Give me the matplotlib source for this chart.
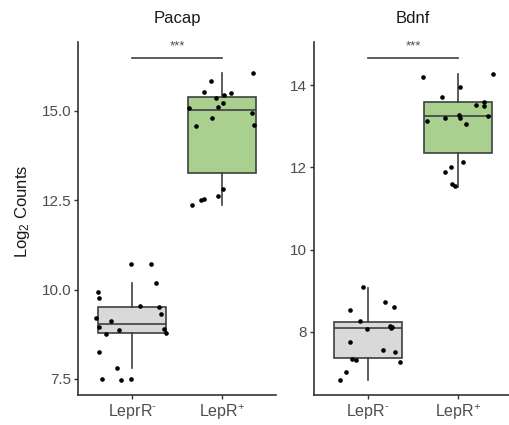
import matplotlib
matplotlib.use("Agg")
import matplotlib.pyplot as plt
import numpy as np

plt.rcParams["font.family"] = ["Liberation Sans", "DejaVu Sans"]
plt.rcParams["mathtext.fontset"] = "custom"
plt.rcParams["mathtext.rm"] = "Liberation Sans"
plt.rcParams["mathtext.it"] = "Liberation Sans:italic"
plt.rcParams["mathtext.default"] = "regular"

groups = ["LeprR$^{\\text{-}}$", "LepR$^{+}$"]
groups_bdnf = ["LepR$^{\\text{-}}$", "LepR$^{+}$"]

# Pacap log2 counts per sample
pacap_neg = [10.73, 10.73, 10.19, 9.94, 9.76, 9.53, 9.51, 9.31, 9.21, 9.11,
             8.95, 8.86, 8.91, 8.76, 8.78, 8.26, 7.80, 7.49, 7.48, 7.49]
pacap_neg_jitter = [-0.01, 0.21, 0.27, -0.38, -0.37, 0.09, 0.30, 0.32, -0.40, -0.23,
                    -0.37, -0.15, 0.36, -0.29, 0.38, -0.37, -0.17, -0.33, -0.12, -0.01]
pacap_pos = [16.06, 15.84, 15.52, 15.44, 15.50, 15.35, 15.09, 15.11, 15.21,
             14.94, 14.81, 14.59, 14.60, 12.82, 12.62, 12.54, 12.50, 12.36]
pacap_pos_jitter = [0.34, -0.12, -0.20, 0.02, 0.10, -0.07, -0.37, -0.04, 0.01,
                    0.33, -0.11, -0.29, 0.35, 0.01, -0.04, -0.20, -0.23, -0.33]

# Bdnf log2 counts per sample
bdnf_neg = [9.08, 8.72, 8.60, 8.54, 8.25, 8.06, 8.15, 8.12, 8.10, 7.76,
            7.56, 7.50, 7.33, 7.32, 7.27, 7.01, 6.82]
bdnf_neg_jitter = [-0.06, 0.19, 0.29, -0.20, -0.09, -0.01, 0.24, 0.27, 0.26, -0.20,
                   0.17, 0.30, -0.18, -0.13, 0.35, -0.24, -0.31]
bdnf_pos = [14.28, 14.20, 13.96, 13.72, 13.51, 13.59, 13.49, 13.26, 13.12,
            13.21, 13.27, 13.19, 13.05, 12.13, 12.01, 11.88, 11.60, 11.54]
bdnf_pos_jitter = [0.39, -0.39, 0.02, -0.18, 0.20, 0.29, 0.29, 0.33, -0.35,
                   -0.14, 0.01, 0.02, 0.09, 0.06, -0.08, -0.15, -0.07, -0.03]

# Box summaries: lower whisker, q1, median, q3, upper whisker
pacap_box = [[7.80, 8.78, 9.03, 9.51, 10.18], [12.37, 13.25, 15.02, 15.40, 16.06]]
bdnf_box = [[6.82, 7.37, 8.08, 8.24, 9.06], [11.52, 12.36, 13.24, 13.58, 14.28]]

sig_label = "***"
pacap_sig_y = 16.48
bdnf_sig_y = 14.66

pacap_ticks = [7.5, 10.0, 12.5, 15.0]
bdnf_ticks = [8, 10, 12, 14]

fill_colors = ["#d9d9d9", "#a9d08e"]
edge = "#3f3f3f"
axis_col = "#333333"
text_col = "#4d4d4d"

fig = plt.figure(figsize=(5.09, 4.25), dpi=100)
W, H = 509, 425
ax1 = fig.add_axes([78 / W, 1 - 395 / H, 198 / W, 353 / H])
ax2 = fig.add_axes([314 / W, 1 - 395 / H, 198 / W, 353 / H])


def draw_panel(ax, title, boxes, pts, jit, labels, ticks, ylim, sig_y, ticklabels):
    stats = []
    for b in boxes:
        stats.append(dict(whislo=b[0], q1=b[1], med=b[2], q3=b[3], whishi=b[4], fliers=[]))
    ax.bxp(stats, positions=[1, 2], widths=0.75, patch_artist=True,
           showcaps=False, showfliers=False,
           boxprops=dict(edgecolor=edge, linewidth=1.2),
           medianprops=dict(color=edge, linewidth=1.2),
           whiskerprops=dict(color=edge, linewidth=1.2), zorder=2)
    for patch, c in zip(ax.patches, fill_colors):
        patch.set_facecolor(c)
    for i, (vals, j) in enumerate(zip(pts, jit)):
        xs = (i + 1) + np.asarray(j)
        ax.scatter(xs, vals, s=11, color="black", zorder=3, linewidths=0)
    ax.set_xlim(0.4, 2.6)
    ax.set_ylim(*ylim)
    ax.set_xticks([1, 2])
    ax.set_xticklabels(labels, fontsize=11.5, color=text_col)
    ax.set_yticks(ticks)
    ax.set_yticklabels(ticklabels, fontsize=11, color=text_col)
    for s in ["top", "right"]:
        ax.spines[s].set_visible(False)
    for s in ["left", "bottom"]:
        ax.spines[s].set_color(axis_col)
        ax.spines[s].set_linewidth(1.2)
    ax.tick_params(axis="both", colors=axis_col, length=3, width=1.0, pad=2)
    ax.tick_params(axis="both", labelcolor=text_col)
    ax.set_title(title, fontsize=12, color="#1a1a1a", pad=14)
    ax.plot([1, 2], [sig_y, sig_y], color=edge, linewidth=1.2, clip_on=False)
    ax.annotate(sig_label, xy=(1.5, sig_y), xytext=(0, 4), textcoords="offset points",
                ha="center", va="bottom", fontsize=9.5, color=text_col,
                annotation_clip=False)
    ax.set_facecolor("none")


draw_panel(ax1, "Pacap", pacap_box, [pacap_neg, pacap_pos],
           [pacap_neg_jitter, pacap_pos_jitter], groups, pacap_ticks,
           (7.05, 16.93), pacap_sig_y, ["7.5", "10.0", "12.5", "15.0"])
draw_panel(ax2, "Bdnf", bdnf_box, [bdnf_neg, bdnf_pos],
           [bdnf_neg_jitter, bdnf_pos_jitter], groups_bdnf, bdnf_ticks,
           (6.46, 15.05), bdnf_sig_y, ["8", "10", "12", "14"])

ax1.set_ylabel("Log$_2$ Counts", fontsize=12, color="#1a1a1a", labelpad=6)
ax1.yaxis.set_label_coords(-0.23, 0.52)

fig.savefig("out.png", dpi=100, facecolor="white")
